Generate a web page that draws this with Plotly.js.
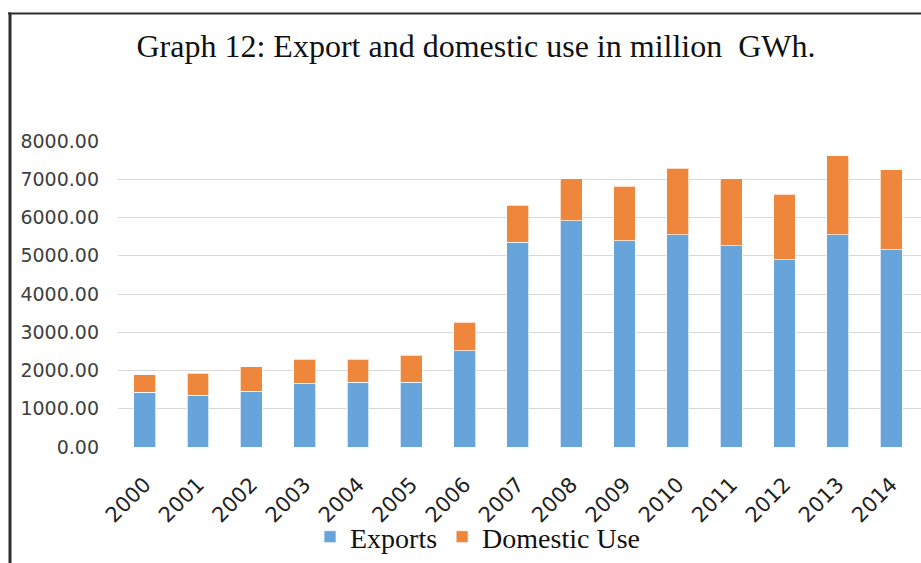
<!DOCTYPE html>
<html>
<head>
<meta charset="utf-8">
<script src="https://cdn.plot.ly/plotly-3.0.1.min.js"></script>
<style>html,body{margin:0;padding:0;background:#fff;}#chart{width:921px;height:563px;}</style>
</head>
<body>
<div id="chart"></div>
<script>
const years = ['2000','2001','2002','2003','2004','2005','2006','2007','2008','2009','2010','2011','2012','2013','2014'];
const exportsVals = [1427,1359,1464,1663,1699,1699,2510,5349,5916,5386,5551,5263,4897,5551,5159];
const totalVals   = [1890,1924,2092,2290,2290,2395,3258,6317,7015,6814,7285,7015,6614,7616,7242];
const domesticVals = totalVals.map((t,i)=>t-exportsVals[i]);
const yTicks = [0,1000,2000,3000,4000,5000,6000,7000,8000];

const W=921,H=563,L=118,R=0,T=141,B=116;
const PW=W-L-R, PH=H-T-B;
const px=x=>(x-L)/PW, py=y=>(H-B-y)/PH;

const traces=[
 {type:'bar',name:'Exports',x:years,y:exportsVals,marker:{color:'#67A4D9',line:{color:'rgba(255,255,255,0.7)',width:1}},width:0.41},
 {type:'bar',name:'Domestic Use',x:years,y:domesticVals,marker:{color:'#EE873B',line:{color:'rgba(255,255,255,0.7)',width:1}},width:0.41}
];
const layout={
 width:W,height:H,margin:{l:L,r:R,t:T,b:B,pad:0},
 paper_bgcolor:'#fff',plot_bgcolor:'#fff',
 barmode:'stack',
 title:{text:'Graph 12: Export and domestic use in million  GWh.',font:{family:'Liberation Serif',size:32,color:'#111'},x:476/W,xref:'container',xanchor:'center',y:1-46/H,yref:'container',yanchor:'middle'},
 xaxis:{type:'category',range:[-0.5,14.56],tickangle:-45,ticks:'',showgrid:false,showline:false,zeroline:false,
   tickfont:{family:'DejaVu Sans',size:21,color:'#222'},ticklabelstandoff:20},
 yaxis:{range:[0,8000],tickvals:yTicks,tickformat:'.2f',showgrid:true,gridcolor:'#d9d9d9',gridwidth:1,zeroline:false,showline:false,ticks:'',
   tickfont:{family:'DejaVu Sans',size:19,color:'#404040'},ticklabelstandoff:18},
 showlegend:true,
 legend:{orientation:'h',x:px(310),xanchor:'left',y:py(537),yanchor:'middle',font:{family:'Liberation Serif',size:28,color:'#111'},bgcolor:'rgba(0,0,0,0)',traceorder:'normal'},
 shapes:[
  {type:'line',xref:'paper',yref:'paper',x0:px(8),x1:px(921),y0:py(13.5),y1:py(13.5),line:{color:'#2e2e2e',width:2}},
  {type:'line',xref:'paper',yref:'paper',x0:px(10),x1:px(10),y0:py(12.5),y1:py(563),line:{color:'#2e2e2e',width:3}}
 ]
};
Plotly.newPlot('chart',traces,layout,{displayModeBar:false,staticPlot:true});
</script>
</body>
</html>
